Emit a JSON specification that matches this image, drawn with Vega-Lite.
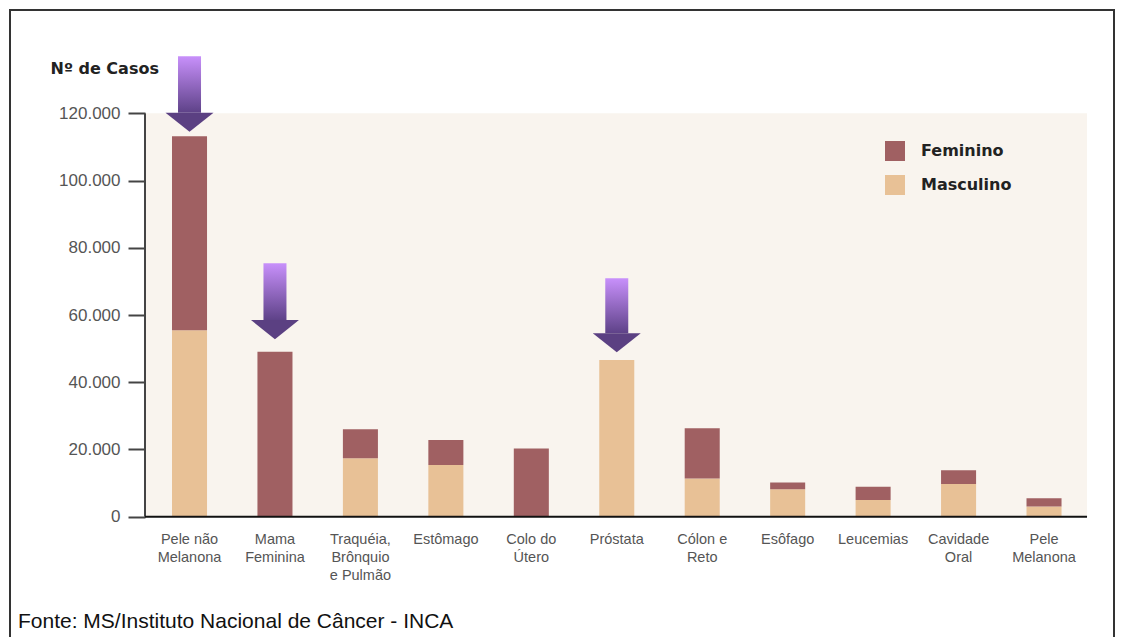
{
  "$schema": "https://vega.github.io/schema/vega-lite/v6.json",
  "autosize": {"type": "none"},
  "padding": {"left": 10, "top": 10, "right": 10, "bottom": 0},
  "width": 1104,
  "height": 627,
  "background": "white",
  "title": {"text": "Fonte: MS/Instituto Nacional de Câncer - INCA", "orient": "bottom", "anchor": "start", "frame": "group", "offset": -26, "font": "Liberation Sans", "fontSize": 21, "fontWeight": "normal", "color": "#111", "baseline": "top", "dx": 8},
  "datasets": {
    "casos": [
      {"categoria": "Pele não Melanona", "sexo": "Masculino", "casos": 55500},
      {"categoria": "Pele não Melanona", "sexo": "Feminino", "casos": 57700},
      {"categoria": "Mama Feminina", "sexo": "Feminino", "casos": 49100},
      {"categoria": "Traquéia, Brônquio e Pulmão", "sexo": "Masculino", "casos": 17400},
      {"categoria": "Traquéia, Brônquio e Pulmão", "sexo": "Feminino", "casos": 8600},
      {"categoria": "Estômago", "sexo": "Masculino", "casos": 15400},
      {"categoria": "Estômago", "sexo": "Feminino", "casos": 7400},
      {"categoria": "Colo do Útero", "sexo": "Feminino", "casos": 20300},
      {"categoria": "Próstata", "sexo": "Masculino", "casos": 46600},
      {"categoria": "Cólon e Reto", "sexo": "Masculino", "casos": 11400},
      {"categoria": "Cólon e Reto", "sexo": "Feminino", "casos": 14900},
      {"categoria": "Esôfago", "sexo": "Masculino", "casos": 8200},
      {"categoria": "Esôfago", "sexo": "Feminino", "casos": 2000},
      {"categoria": "Leucemias", "sexo": "Masculino", "casos": 5000},
      {"categoria": "Leucemias", "sexo": "Feminino", "casos": 3900},
      {"categoria": "Cavidade Oral", "sexo": "Masculino", "casos": 9700},
      {"categoria": "Cavidade Oral", "sexo": "Feminino", "casos": 4100},
      {"categoria": "Pele Melanona", "sexo": "Masculino", "casos": 3000},
      {"categoria": "Pele Melanona", "sexo": "Feminino", "casos": 2500}
    ],
    "setas": [
      {"categoria": "Pele não Melanona", "inicio": 137000, "base": 120200},
      {"categoria": "Mama Feminina", "inicio": 75400, "base": 58500},
      {"categoria": "Próstata", "inicio": 70900, "base": 54600}
    ]
  },
  "layer": [
    {
      "data": {"values": [{}]},
      "mark": {"type": "rect", "color": "#f9f4ee", "xOffset": -27, "x2Offset": 25.5},
      "encoding": {
        "x": {"datum": "Pele não Melanona", "bandPosition": 0, "type": "nominal",
              "scale": {"type": "band", "domain": ["Pele não Melanona", "Mama Feminina", "Traquéia, Brônquio e Pulmão", "Estômago", "Colo do Útero", "Próstata", "Cólon e Reto", "Esôfago", "Leucemias", "Cavidade Oral", "Pele Melanona"], "range": [136.79, 1076.74], "paddingInner": 0.59, "paddingOuter": 0.295, "align": 0.5, "round": false}},
        "x2": {"datum": "Pele Melanona", "bandPosition": 1},
        "y": {"datum": 0, "type": "quantitative", "scale": {"domain": [-35786, 150729], "nice": false, "zero": false}},
        "y2": {"datum": 120000}
      }
    },
    {
      "data": {"name": "casos"},
      "mark": {"type": "bar"},
      "encoding": {
        "x": {"field": "categoria", "type": "nominal",
              "scale": {"type": "band", "domain": ["Pele não Melanona", "Mama Feminina", "Traquéia, Brônquio e Pulmão", "Estômago", "Colo do Útero", "Próstata", "Cólon e Reto", "Esôfago", "Leucemias", "Cavidade Oral", "Pele Melanona"], "range": [136.79, 1076.74], "paddingInner": 0.59, "paddingOuter": 0.295, "align": 0.5, "round": false},
              "axis": {"orient": "bottom", "offset": -120, "domain": false, "ticks": false, "tickSize": 0, "labelPadding": 15, "labelAngle": 0, "labelBaseline": "top", "labelAlign": "center", "labelFont": "Liberation Sans", "labelFontSize": 14.5, "labelColor": "#555", "labelLineHeight": 18, "labelOverlap": false, "title": null,
                       "labelExpr": "datum.value == 'Pele não Melanona' ? ['Pele não', 'Melanona'] : datum.value == 'Mama Feminina' ? ['Mama', 'Feminina'] : datum.value == 'Traquéia, Brônquio e Pulmão' ? ['Traquéia,', 'Brônquio', 'e Pulmão'] : datum.value == 'Colo do Útero' ? ['Colo do', 'Útero'] : datum.value == 'Cólon e Reto' ? ['Cólon e', 'Reto'] : datum.value == 'Cavidade Oral' ? ['Cavidade', 'Oral'] : datum.value == 'Pele Melanona' ? ['Pele', 'Melanona'] : datum.value"}},
        "y": {"field": "casos", "type": "quantitative", "stack": "zero",
              "scale": {"domain": [-35786, 150729], "nice": false, "zero": false},
              "axis": {"orient": "left", "offset": -135, "values": [0, 20000, 40000, 60000, 80000, 100000, 120000], "domain": false, "grid": false, "ticks": true, "tickSize": 17, "tickWidth": 2, "tickColor": "#444", "labelPadding": 8, "labelFont": "Liberation Sans", "labelFontSize": 17, "labelColor": "#555",
                       "labelExpr": "replace(format(datum.value, ','), ',', '.')",
                       "title": "Nº de Casos", "titleAngle": 0, "titleX": -95, "titleY": 58, "titleAlign": "left", "titleBaseline": "middle", "titleFont": "DejaVu Sans", "titleFontWeight": "bold", "titleFontSize": 16, "titleColor": "#222"}},
        "color": {"field": "sexo", "type": "nominal",
                  "scale": {"domain": ["Feminino", "Masculino"], "range": ["#a06062", "#e8c196"]},
                  "legend": {"orient": "none", "legendX": 875, "legendY": 131, "title": null, "symbolType": "square", "symbolSize": 400, "symbolStrokeWidth": 0, "labelFont": "DejaVu Sans", "labelFontWeight": "bold", "labelFontSize": 16, "labelColor": "#222", "labelOffset": 16, "rowPadding": 14, "padding": 0}},
        "order": {"field": "sexo", "sort": "descending"}
      }
    },
    {
      "data": {"values": [{}]},
      "mark": {"type": "rule", "color": "#444", "strokeWidth": 2, "xOffset": -27},
      "encoding": {
        "x": {"datum": "Pele não Melanona", "bandPosition": 0, "type": "nominal"},
        "y": {"datum": 0, "type": "quantitative"},
        "y2": {"datum": 120000}
      }
    },
    {
      "data": {"values": [{}]},
      "mark": {"type": "rule", "color": "#111", "strokeWidth": 2, "xOffset": -27, "x2Offset": 25.5},
      "encoding": {
        "x": {"datum": "Pele não Melanona", "bandPosition": 0, "type": "nominal"},
        "x2": {"datum": "Pele Melanona", "bandPosition": 1},
        "y": {"datum": 0, "type": "quantitative"}
      }
    },
    {
      "data": {"name": "setas"},
      "mark": {"type": "bar", "width": 23, "color": {"gradient": "linear", "x1": 0, "y1": 0, "x2": 0, "y2": 1, "stops": [{"offset": 0, "color": "#c890fb"}, {"offset": 1, "color": "#5e4288"}]}},
      "encoding": {
        "x": {"field": "categoria", "type": "nominal"},
        "y": {"field": "inicio", "type": "quantitative"},
        "y2": {"field": "base"}
      }
    },
    {
      "data": {"name": "setas"},
      "mark": {"type": "point", "shape": "M-1,0L1,0L0,0.8Z", "size": 2304, "filled": true, "opacity": 1, "color": "#5b4082", "strokeWidth": 0},
      "encoding": {
        "x": {"field": "categoria", "type": "nominal"},
        "y": {"field": "base", "type": "quantitative"}
      }
    }
  ],
  "config": {
    "view": {"stroke": "#333", "strokeWidth": 2, "strokeDash": [1731, 1104, 627]},
    "axis": {"grid": false}
  }
}
